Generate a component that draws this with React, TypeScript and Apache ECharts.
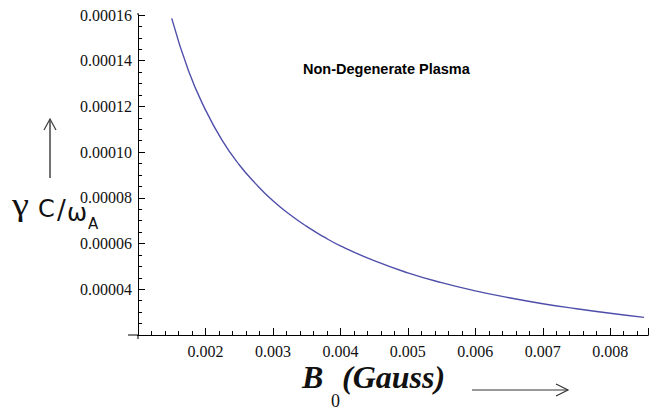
import React, { useEffect, useRef } from "react";
import * as echarts from "echarts";

const xValues = [0.0015, 0.00175, 0.002, 0.00225, 0.0025, 0.00275, 0.003, 0.00325, 0.0035, 0.00375, 0.004, 0.0045, 0.005, 0.0055, 0.006, 0.0065, 0.007, 0.0075, 0.008, 0.0085];
const yValues = [1.585e-4, 1.355e-4, 1.185e-4, 1.05e-4, 9.45e-5, 8.6e-5, 7.87e-5, 7.27e-5, 6.75e-5, 6.3e-5, 5.9e-5, 5.25e-5, 4.72e-5, 4.29e-5, 3.93e-5, 3.63e-5, 3.37e-5, 3.15e-5, 2.95e-5, 2.77e-5];
const xTickLabels = ["0.002", "0.003", "0.004", "0.005", "0.006", "0.007", "0.008"];
const yTickLabels = ["0.00004", "0.00006", "0.00008", "0.00010", "0.00012", "0.00014", "0.00016"];
const titleText = "Non-Degenerate Plasma";

const W = 651;
const H = 412;
const GRID_LEFT = 138;
const GRID_TOP = 15;
const GRID_BOTTOM = 77;

export default function App() {
  const plotRef = useRef<HTMLDivElement>(null);
  const overlayRef = useRef<HTMLDivElement>(null);
  useEffect(() => {
    document.body.style.margin = "0";
    if (!plotRef.current || !overlayRef.current) return;
    const chart = echarts.init(plotRef.current, null, { renderer: "svg" });
    const overlay = echarts.init(overlayRef.current, null, { renderer: "svg" });
    const serif = "Liberation Serif";
    const ox = GRID_LEFT;
    const oy = H - GRID_BOTTOM;
    const xRange = { type: "value", min: 0.001, max: 0.00856, interval: 0.001 };
    const yRange = { type: "value", min: 0.00002, max: 0.00016, interval: 0.00002 };
    const lineCommon = {
      splitLine: { show: false },
      axisLine: { show: true, onZero: false, lineStyle: { color: "#000", width: 1 } },
    };
    chart.setOption({
      animation: false,
      grid: { left: GRID_LEFT, right: 0, top: GRID_TOP, bottom: GRID_BOTTOM },
      xAxis: [
        {
          ...xRange,
          ...lineCommon,
          position: "bottom",
          axisTick: { show: false },
          axisLabel: {
            margin: 8,
            color: "#111",
            fontFamily: serif,
            fontSize: 16,
            formatter: (v: number) => {
              const s = v.toFixed(3);
              return xTickLabels.indexOf(s) >= 0 && Math.abs(v - parseFloat(s)) < 1e-9 ? s : "";
            },
          },
        },
        {
          ...xRange,
          ...lineCommon,
          position: "bottom",
          offset: 0,
          axisLabel: { show: false },
          axisTick: { show: true, inside: true, length: 7, lineStyle: { color: "#000", width: 1 } },
          minorTick: { show: true, splitNumber: 5, length: 4, lineStyle: { color: "#000", width: 1 } },
        },
      ],
      yAxis: [
        {
          ...yRange,
          ...lineCommon,
          position: "left",
          axisTick: { show: false },
          axisLabel: {
            margin: 6,
            color: "#111",
            fontFamily: serif,
            fontSize: 16,
            formatter: (v: number) => {
              const s = v.toFixed(5);
              return yTickLabels.indexOf(s) >= 0 ? s : "";
            },
          },
        },
        {
          ...yRange,
          ...lineCommon,
          position: "left",
          offset: 0,
          axisLabel: { show: false },
          axisTick: { show: true, inside: true, length: 7, lineStyle: { color: "#000", width: 1 } },
          minorTick: { show: true, splitNumber: 4, length: 4, lineStyle: { color: "#000", width: 1 } },
        },
      ],
      series: [
        {
          type: "line",
          xAxisIndex: 0,
          yAxisIndex: 0,
          data: xValues.map((x, i) => [x, yValues[i]]),
          smooth: true,
          showSymbol: false,
          symbol: "none",
          lineStyle: { color: "#4f4fab", width: 1.4 },
        },
      ],
    } as any);
    overlay.setOption({
      animation: false,
      graphic: [
        {
          type: "text",
          left: 303,
          top: 61,
          style: { text: titleText, fill: "#000", font: "bold 14.5px 'Liberation Sans', Arial, sans-serif" },
        },
        { type: "text", x: 12, y: 205, scaleX: 1.2, style: { text: "γ", fill: "#111", font: "32px 'Liberation Serif', serif", verticalAlign: "middle", lineHeight: 24 } },
        { type: "text", x: 38, y: 209, style: { text: "C", fill: "#111", font: "24px 'DejaVu Sans', sans-serif", verticalAlign: "middle", lineHeight: 18 } },
        { type: "text", x: 57, y: 210, style: { text: "/", fill: "#111", font: "26px 'DejaVu Sans', sans-serif", verticalAlign: "middle", lineHeight: 20 } },
        { type: "text", x: 67, y: 213, style: { text: "ω", fill: "#111", font: "24px 'DejaVu Sans', sans-serif", verticalAlign: "middle", lineHeight: 14 } },
        { type: "text", x: 88, y: 224, style: { text: "A", fill: "#111", font: "15px 'DejaVu Sans', sans-serif", verticalAlign: "middle", lineHeight: 12 } },
        { type: "line", shape: { x1: 50, y1: 178, x2: 50, y2: 119 }, style: { stroke: "#444", lineWidth: 1.5 } },
        { type: "polyline", shape: { points: [[44, 130], [50, 119], [56, 130]] }, style: { stroke: "#444", lineWidth: 1.3, fill: "none" } },
        { type: "text", x: 302, y: 377, style: { text: "B", fill: "#111", font: "italic bold 32px 'Liberation Serif', serif", verticalAlign: "middle", lineHeight: 22 } },
        { type: "text", x: 331, y: 401, style: { text: "0", fill: "#111", font: "18px 'Liberation Serif', serif", verticalAlign: "middle", lineHeight: 13 } },
        { type: "text", x: 342, y: 377, style: { text: "(Gauss)", fill: "#111", font: "italic bold 32px 'Liberation Serif', serif", verticalAlign: "middle", lineHeight: 22 } },
        { type: "line", shape: { x1: 472, y1: 390, x2: 568, y2: 390 }, style: { stroke: "#333", lineWidth: 1.2 } },
        { type: "polyline", shape: { points: [[556, 384], [568, 390], [556, 396]] }, style: { stroke: "#333", lineWidth: 1.2, fill: "none" } },
        { type: "line", shape: { x1: ox - 10, y1: oy, x2: ox, y2: oy }, style: { stroke: "#000", lineWidth: 1 } },
        { type: "line", shape: { x1: ox, y1: oy, x2: ox, y2: oy + 4 }, style: { stroke: "#000", lineWidth: 1 } },
        { type: "line", shape: { x1: ox, y1: GRID_TOP - 2, x2: ox, y2: GRID_TOP }, style: { stroke: "#000", lineWidth: 1 } },
      ],
    } as any);
    return () => {
      chart.dispose();
      overlay.dispose();
    };
  }, []);
  return (
    <div style={{ position: "relative", width: W, height: H }}>
      <div ref={plotRef} style={{ position: "absolute", left: 0, top: 0, width: W, height: H }} />
      <div ref={overlayRef} style={{ position: "absolute", left: 0, top: 0, width: W, height: H, pointerEvents: "none" }} />
    </div>
  );
}
